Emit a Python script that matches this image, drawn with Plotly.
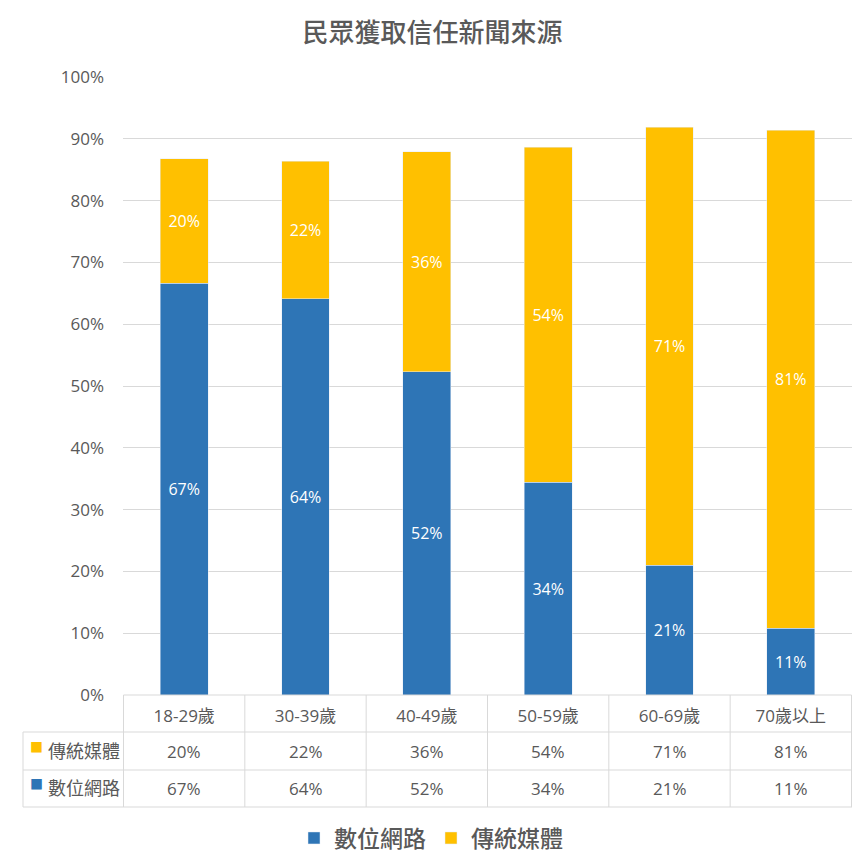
import plotly.graph_objects as go

categories = ["18-29歲", "30-39歲", "40-49歲", "50-59歲", "60-69歲", "70歲以上"]
digital = [66.6, 64.1, 52.3, 34.4, 21.0, 10.8]      # 數位網路
traditional = [20.2, 22.3, 35.6, 54.2, 70.9, 80.6]  # 傳統媒體
series_names = ["數位網路", "傳統媒體"]
y_ticks = [0, 10, 20, 30, 40, 50, 60, 70, 80, 90, 100]
y_ticktext = [f"{v}%" for v in y_ticks]

BLUE = "#2E75B6"
ORANGE = "#FFC000"
GRID = "#D9D9D9"
TXT = "#595959"
FONT = "Open Sans, Noto Sans CJK TC"
CJK = "Noto Sans CJK TC"

W = H = 865
ML, MR, MT, MB = 123, 13, 77, 170
PH = H - MT - MB  # plot height px


def py(px):
    """pixel offset below plot bottom -> paper y"""
    return -px / PH


def pxx(px):
    return (px - ML) / (W - ML - MR)


def pct(v):
    return f"{int(v + 0.5)}%"


fig = go.Figure()
for name, vals, col in [(series_names[0], digital, BLUE), (series_names[1], traditional, ORANGE)]:
    fig.add_trace(go.Bar(
        x=categories, y=vals, name=name, marker_color=col,
        text=[pct(v) for v in vals], textposition="inside", insidetextanchor="middle",
        textfont=dict(color="white", size=16, family=FONT), textangle=0,
    ))

shapes = []
line = dict(color=GRID, width=1)
row_tops = [0, 37, 75, 112]  # px below plot bottom
TL = 23  # table left edge px
shapes.append(dict(type="line", xref="x", yref="paper", x0=-0.5, x1=5.5, y0=0, y1=0, line=line))
for r in row_tops[1:]:
    shapes.append(dict(type="line", xref="paper", yref="paper", x0=pxx(TL), x1=1, y0=py(r), y1=py(r), line=line))
for i in range(len(categories) + 1):
    shapes.append(dict(type="line", xref="x", yref="paper", x0=i - 0.5, x1=i - 0.5,
                       y0=0, y1=py(row_tops[-1]), line=line))
shapes.append(dict(type="line", xref="paper", yref="paper", x0=pxx(TL), x1=pxx(TL),
                   y0=py(row_tops[1]), y1=py(row_tops[-1]), line=line))

annotations = []
rows = [(series_names[1], ORANGE, traditional, 56), (series_names[0], BLUE, digital, 93)]
for name, col, vals, yc in rows:
    annotations.append(dict(xref="paper", yref="paper", x=pxx(36), y=py(yc - 4), text="■",
                            showarrow=False, font=dict(color=col, size=13, family=FONT),
                            xanchor="center", yanchor="middle"))
    annotations.append(dict(xref="paper", yref="paper", x=pxx(46), y=py(yc), text=name,
                            showarrow=False, font=dict(color=TXT, size=18, family=FONT),
                            xanchor="left", yanchor="middle"))
    for c, v in zip(categories, vals):
        annotations.append(dict(xref="x", yref="paper", x=c, y=py(yc), text=pct(v),
                                showarrow=False, font=dict(color=TXT, size=17, family=FONT),
                                xanchor="center", yanchor="middle"))

fig.update_layout(
    width=W, height=H,
    margin=dict(l=ML, r=MR, t=MT, b=MB, autoexpand=False),
    paper_bgcolor="white", plot_bgcolor="white",
    barmode="stack", bargap=0.605,
    title=dict(text="民眾獲取信任新聞來源", x=0.5, xref="container", xanchor="center",
               y=1 - 33 / H, yanchor="middle",
               font=dict(size=26, color=TXT, family=CJK, weight=500)),
    font=dict(family=FONT, color=TXT),
    legend=dict(orientation="h", x=pxx(431), xanchor="center", y=py(143), yanchor="middle",
                traceorder="normal", font=dict(size=23, color=TXT, family=CJK, weight=500),
                itemwidth=30),
    shapes=shapes, annotations=annotations,
)
fig.update_xaxes(showline=False, showgrid=False, ticks="", ticklabelstandoff=9,
                 tickfont=dict(size=17, color=TXT, family=FONT))
fig.update_yaxes(range=[0, 100], tickmode="array", tickvals=y_ticks, ticktext=y_ticktext,
                 showline=False, gridcolor=GRID, gridwidth=1, zeroline=False,
                 ticklabelstandoff=18, tickfont=dict(size=17, color=TXT, family=FONT))

fig.write_html("out.html")
